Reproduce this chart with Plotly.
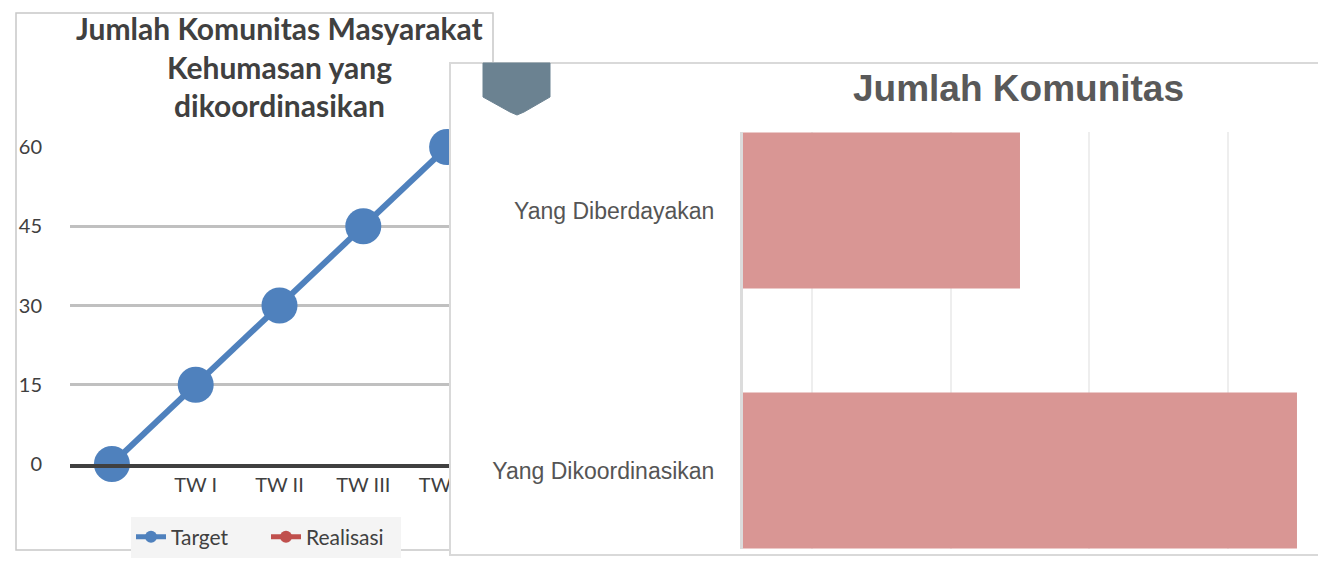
import plotly.graph_objects as go

# ---------------- data ----------------
quarters = ["", "TW I", "TW II", "TW III", "TW IV"]
target = [0, 15, 30, 45, 60]
realisasi = [None, None, None, None, None]
left_y_ticks = [0, 15, 30, 45, 60]

bar_categories = ["Yang Diberdayakan", "Yang Dikoordinasikan"]
bar_values = [2, 4]
bar_grid = [0.5, 1.5, 2.5, 3.5]

left_title_lines = ["Jumlah Komunitas Masyarakat", "Kehumasan yang", "dikoordinasikan"]
right_title = "Jumlah Komunitas"

# ---------------- helpers ----------------
W, H = 1326, 563
OFF = 8  # page body margin


def px(x):
    return (x - OFF) / W


def py(y):
    return 1 - (y - OFF) / H


idx = list(range(len(quarters)))

fig = go.Figure()

# left line chart
fig.add_trace(go.Scatter(
    x=idx, y=target, name="Target", mode="lines+markers",
    line=dict(color="#4f81bd", width=6),
    marker=dict(color="#4f81bd", size=36),
    cliponaxis=False, xaxis="x", yaxis="y",
))
fig.add_trace(go.Scatter(
    x=idx, y=realisasi, name="Realisasi", mode="lines+markers",
    line=dict(color="#c0504d", width=6),
    marker=dict(color="#c0504d", size=36),
    cliponaxis=False, xaxis="x", yaxis="y",
))

# cover subplot (panel background of the overlapping card)
fig.add_trace(go.Scatter(x=[], y=[], xaxis="x2", yaxis="y2",
                         showlegend=False, hoverinfo="skip"))

# right bar chart
fig.add_trace(go.Bar(
    x=bar_values, y=bar_categories, orientation="h",
    marker=dict(color="#d99694", line=dict(width=0)),
    width=0.6, showlegend=False, xaxis="x3", yaxis="y3",
))

left_font = dict(family="Lato", size=20, color="#404040")
right_font = dict(family="Liberation Sans", size=23, color="#555555")

fig.update_layout(
    width=W, height=H,
    margin=dict(l=0, r=0, t=0, b=0, autoexpand=False),
    paper_bgcolor="white", plot_bgcolor="white",
    xaxis=dict(
        domain=[px(70), px(489)], range=[-0.5, 4.5], anchor="y",
        tickmode="array", tickvals=idx, ticktext=quarters,
        showgrid=False, zeroline=False,
        showline=True, linecolor="#404040", linewidth=4,
        ticks="", tickfont=left_font, ticklabelstandoff=0,
    ),
    yaxis=dict(
        domain=[py(464), py(147)], range=[0, 60], anchor="x",
        tickmode="array", tickvals=left_y_ticks,
        showgrid=True, gridcolor="#c0c0c0", gridwidth=2.5,
        zeroline=False, showline=False, ticks="",
        tickfont=left_font, ticklabelstandoff=27,
    ),
    xaxis2=dict(domain=[px(450), 1.0], range=[0, 1], anchor="y2", visible=False),
    yaxis2=dict(domain=[py(555), py(63)], range=[0, 1], anchor="x2", visible=False),
    xaxis3=dict(
        domain=[px(743), px(1310)], range=[0, 4.094], anchor="y3",
        tickmode="array", tickvals=bar_grid, showticklabels=False,
        showgrid=True, gridcolor="#eeeeee", gridwidth=2,
        zeroline=False, showline=False, ticks="",
    ),
    yaxis3=dict(
        domain=[py(549), py(132)], anchor="x3", type="category",
        categoryorder="array", categoryarray=bar_categories,
        range=[1.302, -0.302],
        showgrid=False, zeroline=False,
        showline=True, linecolor="#dcdcdc", linewidth=3,
        ticks="", tickfont=right_font, ticklabelstandoff=21,
    ),
    legend=dict(
        orientation="h", x=px(266), xanchor="center", y=py(537), yanchor="middle",
        bgcolor="#f4f4f4", font=dict(family="Lato", size=21, color="#404040"),
        itemsizing="constant", entrywidth=90,
    ),
    showlegend=True,
)

# left chart frame (below everything)
fig.add_shape(type="rect", xref="paper", yref="paper",
              x0=px(16), x1=px(493), y0=py(550), y1=py(13),
              line=dict(color="#c8c8c8", width=1.5), fillcolor="rgba(0,0,0,0)",
              layer="below")
# card border
fig.add_shape(type="rect", xref="paper", yref="paper",
              x0=px(450), x1=px(1340), y0=py(555), y1=py(63),
              line=dict(color="#d9d9d9", width=2), fillcolor="rgba(0,0,0,0)",
              layer="above")
# bookmark icon
pts = [(483, 63), (550, 63), (550, 97), (524, 112), (517, 115), (510, 112), (483, 97)]
path = "M " + " L ".join(f"{px(a)},{py(b)}" for a, b in pts) + " Z"
fig.add_shape(type="path", xref="paper", yref="paper", path=path,
              fillcolor="#6b8291", line=dict(color="#6b8291", width=1), layer="above")

# titles
for line, yy in zip(left_title_lines, [28, 67, 105]):
    fig.add_annotation(x=px(279), y=py(yy), xref="paper", yref="paper",
                       text=f"<b>{line}</b>", showarrow=False,
                       xanchor="center", yanchor="middle",
                       font=dict(family="Lato", size=30, color="#404040"))
fig.add_annotation(x=px(1019), y=py(88), xref="paper", yref="paper",
                   text=f"<b>{right_title}</b>", showarrow=False,
                   xanchor="center", yanchor="middle",
                   font=dict(family="Liberation Sans", size=37, color="#595959"))

fig.write_html("out.html")
